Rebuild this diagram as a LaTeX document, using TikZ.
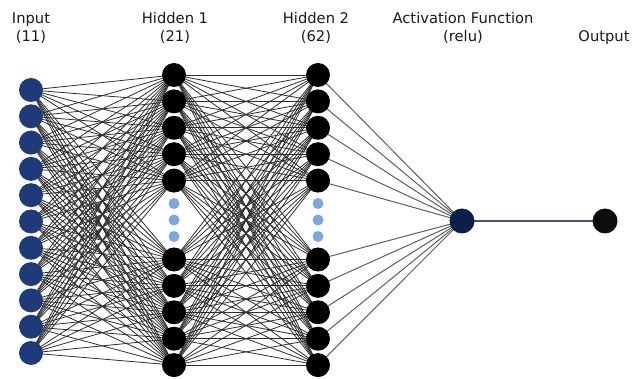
\documentclass[tikz,border=0pt]{standalone}
\usepackage{fontspec}
\setmainfont{DejaVu Sans}
\usetikzlibrary{backgrounds}
\definecolor{inblue}{HTML}{1F3A78}
\definecolor{actblue}{HTML}{0C1E4A}
\definecolor{dotblue}{HTML}{7AA7E0}
\definecolor{edgegray}{HTML}{2E2E2E}
\definecolor{fangray}{HTML}{5E5E5E}
\definecolor{outline}{HTML}{4B5072}
\definecolor{textgray}{HTML}{1A1A1A}
\tikzset{
  neuron/.style={circle, inner sep=0pt, minimum size=24pt},
  inneuron/.style={neuron, fill=inblue},
  hidneuron/.style={neuron, fill=black},
  actneuron/.style={neuron, fill=actblue, minimum size=25pt},
  outneuron/.style={neuron, fill=black!95, minimum size=25pt},
  gapdot/.style={circle, inner sep=0pt, minimum size=11pt, fill=dotblue},
  edge/.style={draw=edgegray, line width=0.8pt},
  fanedge/.style={draw=fangray, line width=1pt},
  outedge/.style={draw=outline, line width=1.5pt},
  title/.style={font=\fontsize{14.7}{17.5}\selectfont, text=textgray, align=center, anchor=base, inner sep=0pt}
}
\begin{document}
\begin{tikzpicture}[x=1pt, y=-1pt]
\useasboundingbox (0,0) rectangle (632,379);

% layer titles (base anchor sits on the last line)
\node[title] (tin)  at (31,41.5)  {Input\\(11)};
\node[title] (th1)  at (175,41.5) {Hidden 1\\(21)};
\node[title] (th2)  at (316,41.5) {Hidden 2\\(62)};
\node[title] (tact) at (463,41.5) {Activation Function\\(relu)};
\node[title] (tout) at (604,41.5) {Output};

% input layer
\foreach \k in {1,...,11}
  \node[inneuron] (i\k) at (31, {90 + 26.3*(\k-1)}) {};

% hidden layers: five shown above the gap, five below
\foreach \k in {1,...,5} {
  \node[hidneuron] (a\k) at (174, {75 + 26.4*(\k-1)}) {};
  \node[hidneuron] (b\k) at (318, {75 + 26.4*(\k-1)}) {};
}
\foreach \k in {6,...,10} {
  \node[hidneuron] (a\k) at (174, {259.5 + 26.4*(\k-6)}) {};
  \node[hidneuron] (b\k) at (318, {259.5 + 26.4*(\k-6)}) {};
}
\foreach \k/\y in {1/203.5, 2/220, 3/236.5} {
  \node[gapdot] (ga\k) at (174,\y) {};
  \node[gapdot] (gb\k) at (318,\y) {};
}

% activation and output
\node[actneuron] (act) at (462,221) {};
\node[outneuron] (out) at (605,221) {};

% connections, drawn beneath the neurons
\begin{pgfonlayer}{background}
  \foreach \p in {1,...,11}
    \foreach \q in {1,...,10}
      \draw[edge] (i\p.center) -- (a\q.center);
  \foreach \p in {1,...,10}
    \foreach \q in {1,...,10}
      \draw[edge] (a\p.center) -- (b\q.center);
  \foreach \p in {1,...,10}
    \draw[fanedge] (b\p.center) -- (act.center);
  \draw[outedge] (act.center) -- (out.center);
\end{pgfonlayer}
\end{tikzpicture}
\end{document}
